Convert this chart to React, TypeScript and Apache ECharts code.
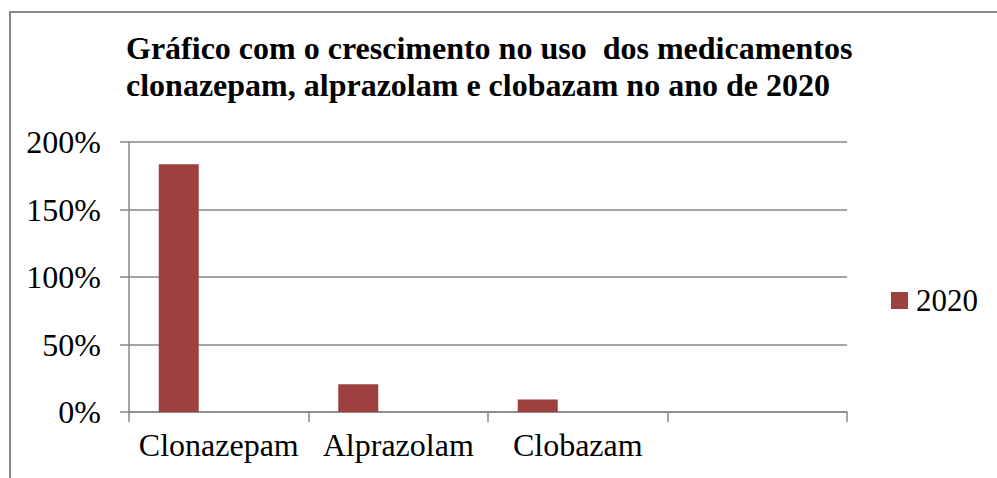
import React, { useEffect, useRef } from "react";
import * as echarts from "echarts";

const categories = ["Clonazepam", "Alprazolam", "Clobazam", ""];
const series2020 = [183.5, 20.6, 9.2, null];
const emptySeriesA = [null, null, null, null];
const emptySeriesB = [null, null, null, null];
const yTicks = { min: 0, max: 200, interval: 50 };
const titleText =
  "Gráfico com o crescimento no uso  dos medicamentos\nclonazepam, alprazolam e clobazam no ano de 2020";

const FONT = "Liberation Serif";
const GRAY = "#878787";
const BAR = "#9e413e";

export default function App() {
  const ref = useRef<HTMLDivElement>(null);
  useEffect(() => {
    if (!ref.current) return;
    const chart = echarts.init(ref.current, null, { renderer: "svg" });
    chart.setOption({
      animation: false,
      backgroundColor: "#ffffff",
      textStyle: { fontFamily: FONT },
      title: {
        text: titleText,
        left: 121,
        top: 24,
        textStyle: {
          fontFamily: FONT,
          fontSize: 32,
          fontWeight: "bold",
          color: "#000",
          lineHeight: 37,
        },
      },
      legend: {
        data: ["2020"],
        left: 886,
        top: 280,
        itemWidth: 17,
        itemHeight: 17,
        icon: "rect",
        textStyle: {
          fontFamily: FONT,
          fontSize: 31,
          color: "#000",
          padding: [0, 0, 0, 3],
        },
      },
      grid: {
        left: 129,
        right: 150,
        top: 142,
        bottom: 66,
        containLabel: false,
        outerBoundsMode: "none",
      },
      xAxis: {
        type: "category",
        data: categories,
        axisLine: { lineStyle: { color: GRAY, width: 1.5 } },
        axisTick: { show: true, length: 10, lineStyle: { color: GRAY, width: 1.5 } },
        axisLabel: {
          fontFamily: FONT,
          fontSize: 32,
          color: "#000",
          margin: 17,
          interval: 0,
        },
        splitLine: { show: false },
      },
      yAxis: {
        type: "value",
        min: yTicks.min,
        max: yTicks.max,
        interval: yTicks.interval,
        axisLine: { show: true, lineStyle: { color: GRAY, width: 1.5 } },
        axisTick: { show: true, length: 9, lineStyle: { color: GRAY, width: 1.5 } },
        axisLabel: {
          fontFamily: FONT,
          fontSize: 32,
          color: "#000",
          margin: 28,
          formatter: "{value}%",
        },
        splitLine: { show: true, lineStyle: { color: GRAY, width: 1.5 } },
      },
      series: [
        {
          name: "2020",
          type: "bar",
          data: series2020,
          barWidth: 40,
          barGap: "0%",
          itemStyle: { color: BAR },
        },
        {
          name: "s2",
          type: "bar",
          data: emptySeriesA,
          barWidth: 40,
          barGap: "0%",
          itemStyle: { color: "#4f81bd" },
        },
        {
          name: "s3",
          type: "bar",
          data: emptySeriesB,
          barWidth: 40,
          barGap: "0%",
          itemStyle: { color: "#9bbb59" },
        },
      ],
      graphic: [
        {
          type: "polyline",
          silent: true,
          shape: {
            points: [
              [10, 478],
              [10, 12],
              [997, 12],
            ],
          },
          style: { stroke: GRAY, lineWidth: 2, fill: null },
        },
      ],
    });
    return () => chart.dispose();
  }, []);
  return (
    <div
      ref={ref}
      style={{ position: "fixed", left: 0, top: 0, width: 997, height: 478 }}
    />
  );
}
